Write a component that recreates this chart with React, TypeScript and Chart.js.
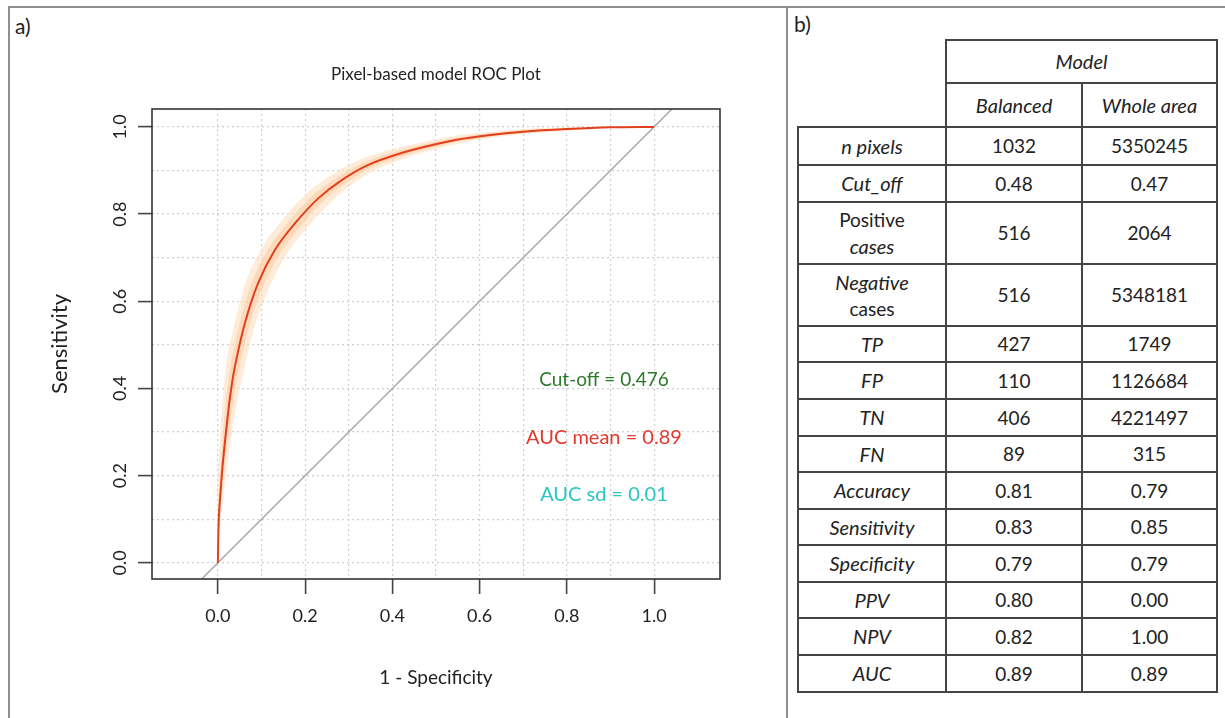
import React, { useEffect, useRef } from "react";
import { Chart, registerables } from "chart.js";

Chart.register(...registerables);

// ---------- chart data ----------
const meanFpr = [0, 0.002, 0.007, 0.012, 0.02, 0.028, 0.038, 0.062, 0.092, 0.131, 0.177, 0.23, 0.284, 0.345, 0.421, 0.482, 0.544, 0.62, 0.7, 0.8, 0.9, 1.0];
const meanTpr = [0, 0.1, 0.175, 0.236, 0.313, 0.381, 0.445, 0.55, 0.641, 0.718, 0.779, 0.836, 0.878, 0.913, 0.94, 0.956, 0.97, 0.981, 0.989, 0.995, 0.999, 1.0];

const outerUpperFpr = [0, 0.0, 0.0, 0.003, 0.008, 0.014, 0.021, 0.04, 0.066, 0.107, 0.156, 0.212, 0.271, 0.337, 0.417, 0.479, 0.542, 0.619, 0.7, 0.8, 0.9, 1.0];
const outerUpperTpr = [0, 0.11, 0.19, 0.255, 0.335, 0.405, 0.47, 0.556, 0.65, 0.732, 0.797, 0.855, 0.896, 0.929, 0.953, 0.967, 0.979, 0.988, 0.995, 0.999, 1.0, 1.0];
const outerLowerFpr = [0, 0.006, 0.014, 0.021, 0.032, 0.042, 0.055, 0.085, 0.118, 0.155, 0.198, 0.248, 0.297, 0.353, 0.425, 0.485, 0.546, 0.621, 0.7, 0.8, 0.9, 1.0];
const outerLowerTpr = [0, 0.095, 0.165, 0.222, 0.295, 0.36, 0.422, 0.545, 0.632, 0.704, 0.761, 0.817, 0.86, 0.897, 0.927, 0.945, 0.961, 0.974, 0.983, 0.991, 0.998, 1.0];

const innerUpperFpr = [0, 0.001, 0.004, 0.008, 0.014, 0.021, 0.03, 0.051, 0.079, 0.119, 0.167, 0.221, 0.278, 0.341, 0.419, 0.481, 0.543, 0.62, 0.7, 0.8, 0.9, 1.0];
const innerUpperTpr = [0, 0.105, 0.182, 0.245, 0.324, 0.393, 0.457, 0.553, 0.646, 0.725, 0.788, 0.846, 0.887, 0.921, 0.947, 0.962, 0.975, 0.985, 0.992, 0.997, 1.0, 1.0];
const innerLowerFpr = [0, 0.004, 0.01, 0.016, 0.026, 0.035, 0.046, 0.073, 0.105, 0.143, 0.188, 0.239, 0.29, 0.349, 0.423, 0.483, 0.545, 0.62, 0.7, 0.8, 0.9, 1.0];
const innerLowerTpr = [0, 0.098, 0.17, 0.229, 0.304, 0.37, 0.433, 0.547, 0.637, 0.711, 0.77, 0.827, 0.869, 0.905, 0.933, 0.95, 0.965, 0.977, 0.986, 0.993, 0.998, 1.0];

const diagonalX = [-0.3, 1.3];
const diagonalY = [-0.3, 1.3];

const gridValues = [0, 0.1, 0.2, 0.3, 0.4, 0.5, 0.6, 0.7, 0.8, 0.9, 1.0];
const tickLabelValues = [0, 0.2, 0.4, 0.6, 0.8, 1.0];

const plotTitle = "Pixel-based model ROC Plot";
const annotationTexts = ["Cut-off = 0.476", "AUC mean = 0.89", "AUC sd = 0.01"];
const annotationColors = ["#2b7a2b", "#e23a2e", "#2cc4c4"];
const annotationX = [0.885, 0.885, 0.885];
const annotationY = [0.42, 0.287, 0.156];

// ---------- table data ----------
const metricNames = ["n pixels", "Cut_off", "Positive cases", "Negative cases", "TP", "FP", "TN", "FN", "Accuracy", "Sensitivity", "Specificity", "PPV", "NPV", "AUC"];
const balancedValues = ["1032", "0.48", "516", "516", "427", "110", "406", "89", "0.81", "0.83", "0.79", "0.80", "0.82", "0.89"];
const wholeAreaValues = ["5350245", "0.47", "2064", "5348181", "1749", "1126684", "4221497", "315", "0.79", "0.85", "0.79", "0.00", "1.00", "0.89"];
const rowHeights = [38, 37, 62, 62, 36, 37, 37, 36, 37, 36, 37, 36, 37, 37];

const FONT = "Lato, 'Open Sans', sans-serif";

const pts = (xs: number[], ys: number[]) => xs.map((x, i) => ({ x, y: ys[i] }));
const polygon = (ux: number[], uy: number[], lx: number[], ly: number[]) =>
  pts(ux, uy).concat(pts(lx, ly).reverse());

const isLabelTick = (v: number) => tickLabelValues.some((t) => Math.abs(t - v) < 1e-6);

function RocChart() {
  const ref = useRef<HTMLCanvasElement | null>(null);
  useEffect(() => {
    if (!ref.current) return;
    const boxPlugin = {
      id: "boxAndText",
      afterDatasetsDraw(chart: any) {
        const { ctx, scales } = chart;
        ctx.save();
        ctx.textAlign = "center";
        ctx.textBaseline = "middle";
        annotationTexts.forEach((t, i) => {
          ctx.font = `${i === 0 ? 19 : 20}px ${FONT}`;
          ctx.fillStyle = annotationColors[i];
          ctx.fillText(t, scales.x.getPixelForValue(annotationX[i]), scales.y.getPixelForValue(annotationY[i]));
        });
        ctx.restore();
      },
      afterDraw(chart: any) {
        const { ctx, chartArea } = chart;
        ctx.save();
        ctx.strokeStyle = "#333";
        ctx.lineWidth = 1.6;
        ctx.strokeRect(chartArea.left, chartArea.top, chartArea.right - chartArea.left, chartArea.bottom - chartArea.top);
        ctx.font = `17px ${FONT}`;
        ctx.fillStyle = "#222";
        ctx.textAlign = "center";
        ctx.textBaseline = "middle";
        ctx.fillText(plotTitle, (chartArea.left + chartArea.right) / 2, chartArea.top - 34);
        ctx.restore();
      },
    };

    const axisCommon = (isX: boolean) => ({
      type: "linear" as const,
      afterBuildTicks: (scale: any) => {
        scale.ticks = gridValues.map((v) => ({ value: v }));
      },
      grid: {
        color: "#cfcfcf",
        lineWidth: 1.2,
        drawTicks: true,
        tickLength: isX ? 15 : 14,
        tickWidth: 1.6,
        tickColor: (c: any) => (c.tick && isLabelTick(c.tick.value) ? "#444" : "rgba(0,0,0,0)"),
      },
      border: { display: false, dash: [2, 3] },
      ticks: {
        autoSkip: false,
        color: "#222",
        font: { family: FONT, size: 18 },
        callback: (v: any) => (isLabelTick(Number(v)) ? Number(v).toFixed(1) : ""),
      },
    });

    const chart = new Chart(ref.current, {
      type: "scatter",
      data: {
        datasets: [
          {
            data: pts(meanFpr, meanTpr),
            showLine: true,
            borderColor: "#e0401c",
            borderWidth: 2,
            pointRadius: 0,
            tension: 0.3,
            fill: false,
          },
          {
            data: pts(diagonalX, diagonalY),
            showLine: true,
            borderColor: "#a9a9a9",
            borderWidth: 1.5,
            pointRadius: 0,
            fill: false,
          },
          {
            data: polygon(innerUpperFpr, innerUpperTpr, innerLowerFpr, innerLowerTpr),
            showLine: true,
            borderWidth: 0,
            borderColor: "rgba(0,0,0,0)",
            backgroundColor: "rgba(250, 200, 155, 0.5)",
            pointRadius: 0,
            tension: 0.3,
            fill: "shape",
          },
          {
            data: polygon(outerUpperFpr, outerUpperTpr, outerLowerFpr, outerLowerTpr),
            showLine: true,
            borderWidth: 0,
            borderColor: "rgba(0,0,0,0)",
            backgroundColor: "rgba(253, 222, 190, 0.6)",
            pointRadius: 0,
            tension: 0.3,
            fill: "shape",
          },
        ],
      },
      options: {
        animation: false,
        responsive: false,
        devicePixelRatio: 1,
        layout: { padding: { left: 0, right: 60, top: 69, bottom: 0 } },
        plugins: {
          legend: { display: false },
          tooltip: { enabled: false },
          title: { display: false },
        },
        scales: {
          x: {
            ...axisCommon(true),
            min: -0.151,
            max: 1.151,
            afterFit: (s: any) => {
              s.height = 121;
            },
            ticks: { ...axisCommon(true).ticks, padding: 11, maxRotation: 0, minRotation: 0 },
            title: {
              display: true,
              text: "1 - Specificity",
              color: "#222",
              font: { family: FONT, size: 19 },
              padding: { top: 0, bottom: 11 },
            },
          },
          y: {
            ...axisCommon(false),
            min: -0.037,
            max: 1.041,
            afterFit: (s: any) => {
              s.width = 132;
            },
            ticks: { ...axisCommon(false).ticks, padding: 5, minRotation: 90, maxRotation: 90, crossAlign: "center" },
            title: {
              display: true,
              text: "Sensitivity",
              color: "#222",
              font: { family: FONT, size: 22 },
              padding: { top: 27, bottom: 0 },
            },
          },
        },
      } as any,
      plugins: [boxPlugin],
    });
    return () => chart.destroy();
  }, []);
  return (
    <canvas
      ref={ref}
      width={760}
      height={660}
      style={{ position: "absolute", left: 20, top: 40, width: 760, height: 660 }}
    />
  );
}

const IT: React.CSSProperties = { fontStyle: "italic", fontSize: 20 };

function MetricLabel({ name }: { name: string }) {
  if (name === "Positive cases")
    return (
      <span>
        Positive
        <br />
        <span style={IT}>cases</span>
      </span>
    );
  if (name === "Negative cases")
    return (
      <span>
        <span style={IT}>Negative</span>
        <br />
        cases
      </span>
    );
  return <span style={IT}>{name}</span>;
}

function MetricsTable() {
  const cell: React.CSSProperties = {
    border: "2px solid #444",
    textAlign: "center",
    verticalAlign: "middle",
    padding: 0,
    lineHeight: "26px",
  };
  return (
    <table
      style={{
        position: "absolute",
        left: 797,
        top: 39,
        width: 419,
        borderCollapse: "collapse",
        tableLayout: "fixed",
        fontFamily: FONT,
        fontSize: 19,
        color: "#222",
      }}
    >
      <colgroup>
        <col style={{ width: 148 }} />
        <col style={{ width: 136 }} />
        <col style={{ width: 135 }} />
      </colgroup>
      <tbody>
        <tr style={{ height: 43 }}>
          <td rowSpan={2} style={{ border: "none" }} />
          <td colSpan={2} style={cell}>
            <span style={IT}>Model</span>
          </td>
        </tr>
        <tr style={{ height: 44 }}>
          <td style={cell}>
            <span style={IT}>Balanced</span>
          </td>
          <td style={cell}>
            <span style={IT}>Whole area</span>
          </td>
        </tr>
        {metricNames.map((name, i) => (
          <tr key={name} style={{ height: rowHeights[i] }}>
            <td style={cell}>
              <MetricLabel name={name} />
            </td>
            <td style={cell}>{balancedValues[i]}</td>
            <td style={cell}>{wholeAreaValues[i]}</td>
          </tr>
        ))}
      </tbody>
    </table>
  );
}

export default function App() {
  return (
    <div
      style={{
        position: "absolute",
        left: 0,
        top: 0,
        width: 1225,
        height: 718,
        overflow: "hidden",
        background: "#fff",
        fontFamily: FONT,
      }}
    >
      <div style={{ position: "absolute", left: 8, top: 6, width: 1260, height: 760, border: "2px solid #8f8f8f" }} />
      <div style={{ position: "absolute", left: 786, top: 6, width: 2, height: 760, background: "#8f8f8f" }} />
      <div style={{ position: "absolute", left: 15, top: 14, fontSize: 21, lineHeight: "24px", color: "#222" }}>a)</div>
      <div style={{ position: "absolute", left: 794, top: 12, fontSize: 21, lineHeight: "24px", color: "#222" }}>b)</div>
      <RocChart />
      <MetricsTable />
    </div>
  );
}
